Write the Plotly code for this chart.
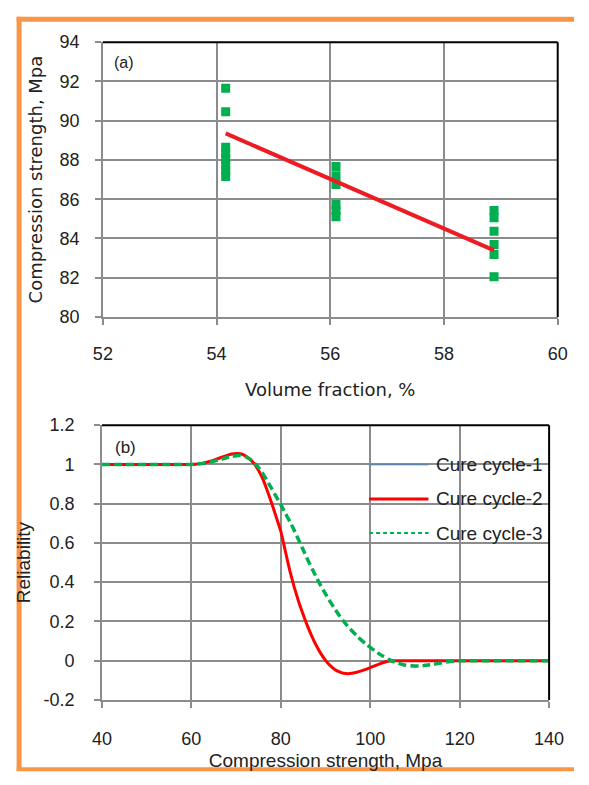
import plotly.graph_objects as go

# ---------------- Panel (a) data ----------------
vf_x = [54.16] * 8 + [56.1] * 6 + [58.88] * 6
vf_y = [91.65, 90.45, 88.65, 88.35, 88.05, 87.75, 87.45, 87.15,
        87.66, 87.2, 86.75, 85.73, 85.41, 85.11,
        85.42, 85.06, 84.37, 83.69, 83.18, 82.05]
trend_x = [54.16, 58.88]
trend_y = [89.35, 83.39]
a_xticks = [52, 54, 56, 58, 60]
a_yticks = [80, 82, 84, 86, 88, 90, 92, 94]

# ---------------- Panel (b) data ----------------
cc2_x = [40, 60, 61, 62, 63, 64, 65, 66, 67, 68, 69, 70, 71, 72, 73, 74, 75, 76, 77, 78, 79,
         80, 81, 82, 83, 84, 85, 86, 87, 88, 89, 90, 91, 92, 93, 94, 95, 96, 97, 98, 99,
         100, 101, 102, 103, 104, 105, 106, 120, 140]
cc2_y = [1, 1, 1.001, 1.004, 1.009, 1.015, 1.022, 1.03, 1.038, 1.046, 1.053, 1.056, 1.054, 1.045, 1.028,
         1.005, 0.97, 0.925, 0.865, 0.80, 0.73,
         0.66, 0.56, 0.46, 0.375, 0.30, 0.235, 0.175, 0.122, 0.075, 0.035, 0.002, -0.024, -0.043, -0.056,
         -0.064, -0.066, -0.064, -0.059, -0.052, -0.044,
         -0.035, -0.026, -0.017, -0.009, -0.003, 0, 0, 0, 0]
cc1_x = cc2_x
cc1_y = cc2_y
cc3_x = [40, 60, 61, 62, 63, 64, 65, 66, 67, 68, 69, 70, 71, 72, 73, 74, 75, 76, 77, 78, 79,
         80, 81, 82, 83, 84, 85, 86, 87, 88, 89, 90, 91, 92, 93, 94, 95, 96, 97, 98, 99,
         100, 101, 102, 103, 104, 105, 106, 107, 108, 109, 110, 111, 112, 113, 114, 115,
         116, 117, 118, 119, 120, 140]
cc3_y = [1, 1, 1.001, 1.003, 1.006, 1.01, 1.016, 1.022, 1.028, 1.035, 1.041, 1.044, 1.045, 1.04, 1.028,
         1.01, 0.985, 0.953, 0.915, 0.875, 0.835,
         0.795, 0.752, 0.71, 0.664, 0.615, 0.565, 0.515, 0.468, 0.423, 0.38, 0.34, 0.302, 0.267, 0.233,
         0.202, 0.174, 0.15, 0.127, 0.105, 0.086,
         0.068, 0.051, 0.035, 0.021, 0.008, -0.003, -0.012, -0.018, -0.023, -0.026, -0.027, -0.027,
         -0.025, -0.022, -0.019, -0.015, -0.011, -0.007, -0.004, -0.001, 0, 0]
b_xticks = [40, 60, 80, 100, 120, 140]
b_yticks = [-0.2, 0, 0.2, 0.4, 0.6, 0.8, 1, 1.2]
b_ytext = ["-0.2", "0", "0.2", "0.4", "0.6", "0.8", "1", "1.2"]
legend_names = ["Cure cycle-1", "Cure cycle-2", "Cure cycle-3"]

W, H = 589, 785
GRID = "#8c8c8c"
TXT = "#222222"
TICKFONT = dict(family="Liberation Sans, Arial, sans-serif", size=18, color=TXT)

fig = go.Figure()

fig.add_trace(go.Scatter(x=vf_x, y=vf_y, mode="markers",
                         marker=dict(symbol="square", size=9, color="#00B050"),
                         xaxis="x", yaxis="y", showlegend=False))
fig.add_trace(go.Scatter(x=trend_x, y=trend_y, mode="lines",
                         line=dict(color="#ED1C24", width=4),
                         xaxis="x", yaxis="y", showlegend=False))

fig.add_trace(go.Scatter(x=cc1_x, y=cc1_y, mode="lines", name=legend_names[0],
                         line=dict(color="#4F81BD", width=1, shape="spline", smoothing=0.4),
                         xaxis="x2", yaxis="y2", showlegend=False))
fig.add_trace(go.Scatter(x=cc2_x, y=cc2_y, mode="lines", name=legend_names[1],
                         line=dict(color="#FF0000", width=3, shape="spline", smoothing=0.4),
                         xaxis="x2", yaxis="y2", showlegend=False))
fig.add_trace(go.Scatter(x=cc3_x, y=cc3_y, mode="lines", name=legend_names[2],
                         line=dict(color="#00B050", width=3.5, dash="8px,4px", shape="spline", smoothing=0.4),
                         xaxis="x2", yaxis="y2", showlegend=False))

def px_x(p):
    return p / W

def px_y(p):
    return 1 - p / H

axis_common = dict(showgrid=True, gridcolor=GRID, gridwidth=1.5,
                   showline=True, linecolor=GRID, linewidth=1.5,
                   ticks="outside", tickcolor=GRID, ticklen=6, tickwidth=1.5,
                   zeroline=False, tickfont=TICKFONT, fixedrange=True)

fig.update_layout(
    width=W, height=H, autosize=False,
    margin=dict(l=0, r=0, t=0, b=0),
    paper_bgcolor="white", plot_bgcolor="white",
    xaxis=dict(domain=[px_x(97), px_x(572)], range=[52, 60], tickvals=a_xticks,
               anchor="y", ticklabelstandoff=14,
               title=dict(text="Volume fraction, %", standoff=20,
                          font=dict(family="DejaVu Sans", size=18, color=TXT)),
               **axis_common),
    yaxis=dict(domain=[px_y(315), px_y(33)], range=[80, 94], tickvals=a_yticks,
               anchor="x", ticklabelstandoff=12,
               title=dict(text="Compression strength, Mpa", standoff=12,
                          font=dict(family="DejaVu Sans", size=18, color=TXT)),
               **axis_common),
    xaxis2=dict(domain=[px_x(96), px_x(563)], range=[40, 140], tickvals=b_xticks,
                anchor="y2", ticklabelstandoff=16,
                title=dict(text="Compression strength, Mpa", standoff=5,
                           font=dict(family="Liberation Sans, Arial", size=19, color=TXT)),
                **axis_common),
    yaxis2=dict(domain=[px_y(708), px_y(426)], range=[-0.2, 1.2], tickvals=b_yticks,
                ticktext=b_ytext, anchor="x2", ticklabelstandoff=16,
                title=dict(text="Reliability", standoff=8,
                           font=dict(family="Liberation Sans, Arial", size=19, color=TXT)),
                **axis_common),
)

shapes = []
# black top/right borders of each plot area
for xr, yr in (("x domain", "y domain"), ("x2 domain", "y2 domain")):
    shapes.append(dict(type="line", xref=xr, yref=yr, x0=0, x1=1, y0=1, y1=1,
                       line=dict(color="black", width=2)))
    shapes.append(dict(type="line", xref=xr, yref=yr, x0=1, x1=1, y0=0, y1=1,
                       line=dict(color="black", width=2)))

# orange frame (left, top, bottom)
ORANGE = "#F79646"
shapes.append(dict(type="line", xref="paper", yref="paper", x0=px_x(9.5), x1=px_x(9.5),
                   y0=px_y(7), y1=px_y(781), line=dict(color=ORANGE, width=5)))
shapes.append(dict(type="line", xref="paper", yref="paper", x0=px_x(7), x1=1,
                   y0=px_y(9.5), y1=px_y(9.5), line=dict(color=ORANGE, width=5)))
shapes.append(dict(type="line", xref="paper", yref="paper", x0=px_x(7), x1=1,
                   y0=px_y(779), y1=px_y(779), line=dict(color=ORANGE, width=4)))

# manual legend for panel (b)
leg_y = [466.7, 501.7, 536.7]
leg_styles = [dict(color="#4F81BD", width=1),
              dict(color="#FF0000", width=3),
              dict(color="#00B050", width=2, dash="4px,3px")]
annotations = []
for name, yy, st in zip(legend_names, leg_y, leg_styles):
    shapes.append(dict(type="line", xref="paper", yref="paper",
                       x0=px_x(375), x1=px_x(437), y0=px_y(yy), y1=px_y(yy), line=st))
    annotations.append(dict(text=name, xref="paper", yref="paper", x=px_x(443), y=px_y(yy),
                            xanchor="left", yanchor="middle", showarrow=False,
                            font=dict(family="Liberation Sans, Arial", size=19, color=TXT)))

annotations.append(dict(text="(a)", xref="paper", yref="paper", x=px_x(107), y=px_y(54),
                        xanchor="left", yanchor="middle", showarrow=False,
                        font=dict(family="Liberation Sans, Arial", size=16, color=TXT)))
annotations.append(dict(text="(b)", xref="paper", yref="paper", x=px_x(108), y=px_y(449),
                        xanchor="left", yanchor="middle", showarrow=False,
                        font=dict(family="Liberation Sans, Arial", size=17, color=TXT)))

fig.update_layout(shapes=shapes, annotations=annotations)

fig.write_html("out.html")
